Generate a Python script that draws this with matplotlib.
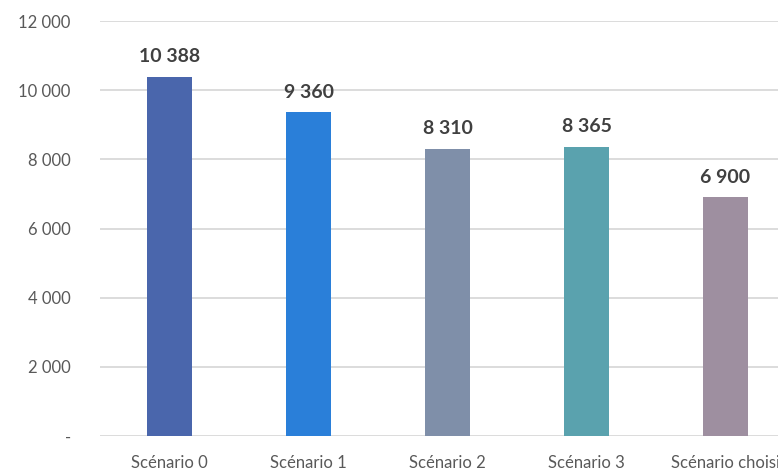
import matplotlib
matplotlib.use("Agg")
import matplotlib.pyplot as plt
from matplotlib.ticker import FuncFormatter

categories = ["Scénario 0", "Scénario 1", "Scénario 2", "Scénario 3", "Scénario choisi"]
values = [10388, 9360, 8310, 8365, 6900]
colors = ["#4A66AC", "#2A7FD9", "#7F8FA9", "#5AA2AE", "#9E8FA0"]
y_ticks = [0, 2000, 4000, 6000, 8000, 10000, 12000]

plt.rcParams["font.family"] = ["Lato", "DejaVu Sans"]

W, H = 778, 473
fig = plt.figure(figsize=(W / 100, H / 100), dpi=100)
# axes extends past the right edge so the last label is clipped
left, right = 100, 795
top, bottom = 21, 436
ax = fig.add_axes([left / W, 1 - bottom / H, (right - left) / W, (bottom - top) / H])

x = range(len(categories))
ax.bar(x, values, width=0.32, color=colors, zorder=3)

for xi, v in zip(x, values):
    ax.text(xi, v + 330, f"{v:,}".replace(",", " "), ha="center", va="bottom",
            fontsize=14, fontweight="bold", color="#404040")

ax.set_xlim(-0.5, len(categories) - 0.5)
ax.set_ylim(0, 12000)
ax.set_yticks(y_ticks)
ax.yaxis.set_major_formatter(FuncFormatter(
    lambda v, p: "-" if v == 0 else f"{int(v):,}".replace(",", " ")))
ax.set_xticks(list(x))
ax.set_xticklabels(categories)

ax.grid(axis="y", color="#D9D9D9", linewidth=1.3, zorder=0)
for s in ax.spines.values():
    s.set_visible(False)
ax.tick_params(axis="both", length=0, labelsize=12, colors="#595959")
ax.tick_params(axis="y", pad=21)
ax.tick_params(axis="x", pad=14)

fig.savefig("out.png", dpi=100)
